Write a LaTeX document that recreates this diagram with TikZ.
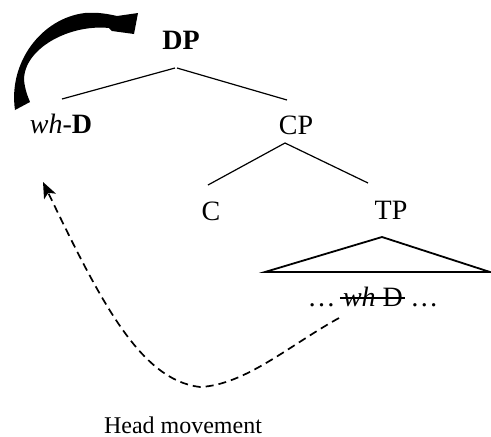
\documentclass[tikz,border=0pt]{standalone}
\usepackage{fontspec}
\setmainfont{Liberation Serif}
\usetikzlibrary{arrows.meta}
\begin{document}
\begin{tikzpicture}[x=1pt,y=-1pt,
  lbl/.style={inner sep=0pt,anchor=base,font=\fontsize{28}{34}\selectfont},
  caption/.style={inner sep=0pt,anchor=base,font=\fontsize{24}{29}\selectfont},
  branch/.style={line width=1.2pt},
  roof/.style={line width=1.8pt,line join=miter},
  strike/.style={line width=1.6pt},
  movearrow/.style={line width=1.7pt,dash pattern=on 8pt off 5pt,
    -{Stealth[length=16pt,width=13pt,inset=4pt]}},
]
\useasboundingbox (0,0) rectangle (491,437);

% labels of the tree
\node[lbl] (DP)  at (181,49)  {\textbf{DP}};
\node[lbl] (whD) at (61,133)  {\textit{wh}-\textbf{D}};
\node[lbl] (CP)  at (296,134) {CP};
\node[lbl] (C)   at (211,220) {C};
\node[lbl] (TP)  at (391,219) {TP};

% branches
\draw[branch] ([xshift=-6pt,yshift=-19pt]DP.base) -- ([xshift=1pt,yshift=34pt]whD.base);
\draw[branch] ([xshift=-4pt,yshift=-19pt]DP.base) -- ([xshift=-9pt,yshift=34pt]CP.base);
\draw[branch] ([xshift=-11pt,yshift=-9pt]CP.base) -- ([xshift=-3pt,yshift=35pt]C.base);
\draw[branch] ([xshift=-11pt,yshift=-9pt]CP.base) -- ([xshift=-23pt,yshift=36pt]TP.base);

% triangle under TP
\coordinate (tpapex) at ([xshift=-9pt,yshift=-18pt]TP.base);
\draw[roof] (tpapex) -- ++(-117,35) -- ++(225,0) -- cycle;

% contents of TP with the struck-out copy
\node[lbl] (trace) at (373,306) {\textit{wh} D};
\node[lbl,anchor=base east] (dotsl) at ([xshift=-7pt]trace.base west) {…};
\node[lbl,anchor=base west] (dotsr) at ([xshift=7pt]trace.base east) {…};
\draw[strike] ([xshift=-3pt,yshift=8pt]trace.base west) -- ([xshift=2pt,yshift=8pt]trace.base east);

% thick curved arrow from wh-D up to DP
\fill (15,110) .. controls (8,62) and (42,18) .. (85,13)
      .. controls (98,12) and (108,14) .. (117,16)
      -- (138,13) -- (134,34) -- (112,31) -- (109,28)
      .. controls (70,24) and (24,48) .. (24,80)
      .. controls (25,90) and (28,97) .. (30,102) -- cycle;

% dashed movement path
\coordinate (start) at ([xshift=-34pt,yshift=-12pt]trace.base);
\draw[movearrow] (start) .. controls (290,345) and (245,385) .. (200,387)
      .. controls (140,380) and (100,300) .. ([xshift=-18pt,yshift=-49pt]whD.base);

\node[caption] (hm) at (183,433) {Head movement};
\end{tikzpicture}
\end{document}
